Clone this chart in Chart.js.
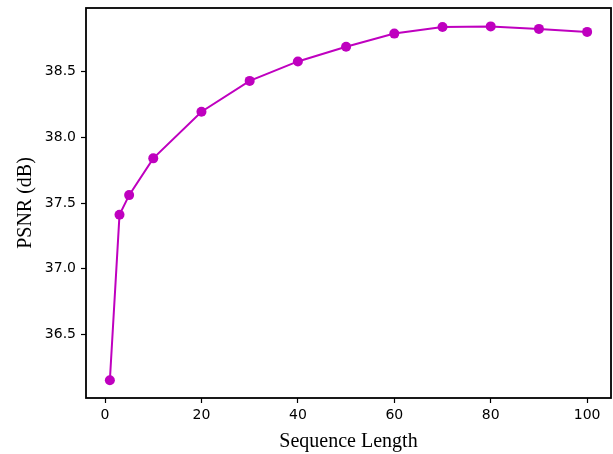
<!DOCTYPE html>
<html>
<head>
<meta charset="utf-8">
<script src="https://cdn.jsdelivr.net/npm/chart.js@4/dist/chart.umd.min.js"></script>
<style>
    html, body { margin: 0; padding: 0; background: #fff; }
    #wrap { width: 613px; height: 454px; }
</style>
</head>
<body>
<div id="wrap"><canvas id="psnr-chart" width="613" height="454"></canvas></div>
<script>
const seqLengths = [1, 3, 5, 10, 20, 30, 40, 50, 60, 70, 80, 90, 100];
const psnrValues = [36.15, 37.41, 37.56, 37.84, 38.195, 38.43, 38.578, 38.69, 38.79, 38.84, 38.845, 38.826, 38.803];
const xTicks = [0, 20, 40, 60, 80, 100];
const yTicks = [36.5, 37.0, 37.5, 38.0, 38.5];

const lineColor = '#bf00bf';

const framePlugin = {
    id: 'frame',
    afterDraw(chart) {
        const { ctx, chartArea } = chart;
        ctx.save();
        ctx.strokeStyle = '#000';
        ctx.lineWidth = 1.8;
        ctx.strokeRect(chartArea.left, chartArea.top, chartArea.right - chartArea.left, chartArea.bottom - chartArea.top);
        ctx.restore();
    }
};

function fixTicks(values) {
    return function(scale) {
        scale.ticks = values.map(v => ({ value: v }));
    };
}

const ctx = document.getElementById('psnr-chart').getContext('2d');
new Chart(ctx, {
    type: 'line',
    data: {
        datasets: [
            {
                data: seqLengths.map((x, i) => ({ x: x, y: psnrValues[i] })),
                borderColor: lineColor,
                backgroundColor: lineColor,
                borderWidth: 2,
                pointRadius: 5,
                pointHoverRadius: 5,
                pointBorderWidth: 0,
                tension: 0
            }
        ]
    },
    options: {
        responsive: false,
        animation: false,
        events: [],
        layout: {
            autoPadding: false,
            padding: { top: 8, right: 2, left: 0, bottom: 0 }
        },
        plugins: {
            legend: { display: false },
            tooltip: { enabled: false }
        },
        scales: {
            x: {
                type: 'linear',
                min: -3.95,
                max: 104.95,
                afterBuildTicks: fixTicks(xTicks),
                afterFit: function(scale) {
                    scale.height = 56;
                    scale.paddingLeft = 0;
                    scale.paddingRight = 0;
                },
                grid: {
                    drawOnChartArea: false,
                    drawTicks: true,
                    tickLength: 5,
                    tickWidth: 1.2,
                    tickColor: '#000'
                },
                border: { display: false },
                ticks: {
                    color: '#000',
                    padding: 4,
                    maxRotation: 0,
                    font: { family: 'DejaVu Sans', size: 14 },
                    callback: v => v.toString()
                },
                title: {
                    display: true,
                    text: 'Sequence Length',
                    color: '#000',
                    font: { family: 'Liberation Serif', size: 20 },
                    padding: { top: 0, bottom: 0 }
                }
            },
            y: {
                type: 'linear',
                min: 36.015,
                max: 38.985,
                afterBuildTicks: fixTicks(yTicks),
                afterFit: function(scale) {
                    scale.width = 86;
                    scale.paddingTop = 0;
                    scale.paddingBottom = 0;
                },
                grid: {
                    drawOnChartArea: false,
                    drawTicks: true,
                    tickLength: 5,
                    tickWidth: 1.2,
                    tickColor: '#000'
                },
                border: { display: false },
                ticks: {
                    color: '#000',
                    padding: 5,
                    font: { family: 'DejaVu Sans', size: 14 },
                    callback: v => v.toFixed(1)
                },
                title: {
                    display: true,
                    text: 'PSNR (dB)',
                    color: '#000',
                    font: { family: 'Liberation Serif', size: 20 },
                    padding: { top: 14, bottom: 0 }
                }
            }
        }
    },
    plugins: [framePlugin]
});
</script>
</body>
</html>
